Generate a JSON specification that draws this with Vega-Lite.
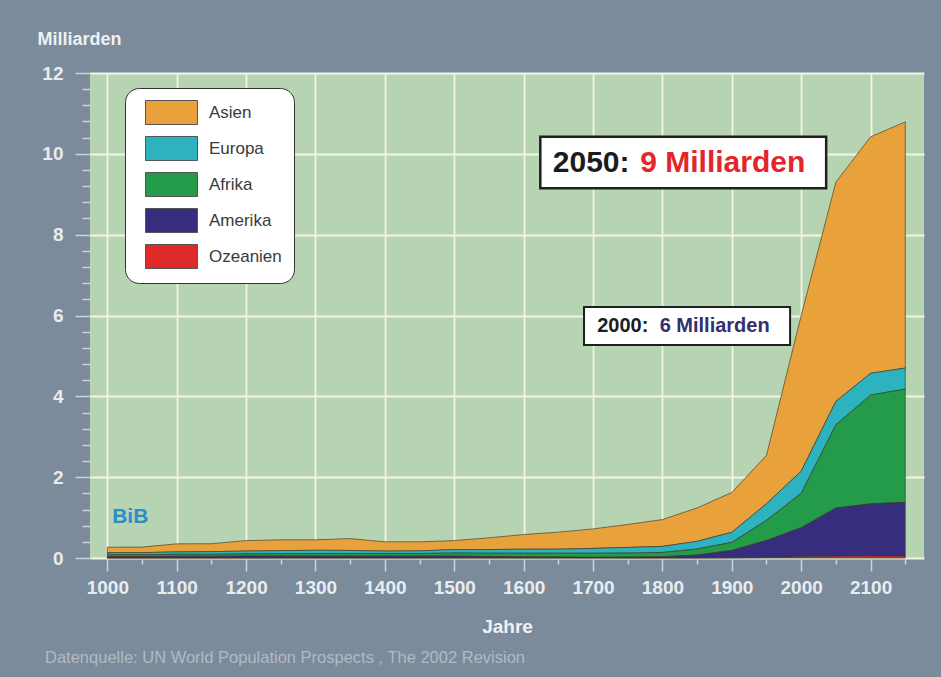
{
  "$schema": "https://vega.github.io/schema/vega-lite/v6.json",
  "width": 834,
  "height": 485,
  "autosize": {"type": "none"},
  "padding": {"left": 90, "top": 73, "right": 17, "bottom": 119},
  "background": "#7B8B9B",
  "config": {
    "font": "Liberation Sans",
    "view": {"fill": "#B7D4B2", "stroke": null}
  },
  "title": {
    "text": "Datenquelle: UN World Population Prospects , The 2002 Revision",
    "orient": "bottom",
    "anchor": "start",
    "frame": "group",
    "dx": -45,
    "offset": 14,
    "fontSize": 16.5,
    "fontWeight": "normal",
    "color": "#B0BAC5"
  },
  "layer": [
    {
      "data": {
        "values": [
          {"Jahr": 1000, "Asien": 0.135, "Europa": 0.05, "Afrika": 0.045, "Amerika": 0.035, "Ozeanien": 0.002},
          {"Jahr": 1050, "Asien": 0.138, "Europa": 0.05, "Afrika": 0.045, "Amerika": 0.035, "Ozeanien": 0.002},
          {"Jahr": 1100, "Asien": 0.198, "Europa": 0.06, "Afrika": 0.05, "Amerika": 0.04, "Ozeanien": 0.002},
          {"Jahr": 1150, "Asien": 0.196, "Europa": 0.065, "Afrika": 0.05, "Amerika": 0.04, "Ozeanien": 0.002},
          {"Jahr": 1200, "Asien": 0.258, "Europa": 0.07, "Afrika": 0.055, "Amerika": 0.045, "Ozeanien": 0.002},
          {"Jahr": 1250, "Asien": 0.268, "Europa": 0.075, "Afrika": 0.06, "Amerika": 0.045, "Ozeanien": 0.002},
          {"Jahr": 1300, "Asien": 0.258, "Europa": 0.08, "Afrika": 0.065, "Amerika": 0.045, "Ozeanien": 0.002},
          {"Jahr": 1350, "Asien": 0.293, "Europa": 0.075, "Afrika": 0.065, "Amerika": 0.045, "Ozeanien": 0.002},
          {"Jahr": 1400, "Asien": 0.228, "Europa": 0.06, "Afrika": 0.065, "Amerika": 0.045, "Ozeanien": 0.002},
          {"Jahr": 1450, "Asien": 0.223, "Europa": 0.065, "Afrika": 0.065, "Amerika": 0.045, "Ozeanien": 0.002},
          {"Jahr": 1500, "Asien": 0.222, "Europa": 0.085, "Afrika": 0.075, "Amerika": 0.045, "Ozeanien": 0.003},
          {"Jahr": 1550, "Asien": 0.292, "Europa": 0.09, "Afrika": 0.08, "Amerika": 0.035, "Ozeanien": 0.003},
          {"Jahr": 1600, "Asien": 0.362, "Europa": 0.1, "Afrika": 0.09, "Amerika": 0.025, "Ozeanien": 0.003},
          {"Jahr": 1650, "Asien": 0.422, "Europa": 0.1, "Afrika": 0.095, "Amerika": 0.02, "Ozeanien": 0.003},
          {"Jahr": 1700, "Asien": 0.482, "Europa": 0.12, "Afrika": 0.1, "Amerika": 0.015, "Ozeanien": 0.003},
          {"Jahr": 1750, "Asien": 0.568, "Europa": 0.14, "Afrika": 0.1, "Amerika": 0.02, "Ozeanien": 0.002},
          {"Jahr": 1800, "Asien": 0.663, "Europa": 0.15, "Afrika": 0.105, "Amerika": 0.03, "Ozeanien": 0.002},
          {"Jahr": 1850, "Asien": 0.827, "Europa": 0.19, "Afrika": 0.15, "Amerika": 0.07, "Ozeanien": 0.003},
          {"Jahr": 1900, "Asien": 0.984, "Europa": 0.25, "Afrika": 0.2, "Amerika": 0.18, "Ozeanien": 0.006},
          {"Jahr": 1950, "Asien": 1.197, "Europa": 0.41, "Afrika": 0.5, "Amerika": 0.42, "Ozeanien": 0.013},
          {"Jahr": 2000, "Asien": 3.85, "Europa": 0.55, "Afrika": 0.85, "Amerika": 0.72, "Ozeanien": 0.03},
          {"Jahr": 2050, "Asien": 5.425, "Europa": 0.58, "Afrika": 2.06, "Amerika": 1.19, "Ozeanien": 0.045},
          {"Jahr": 2100, "Asien": 5.85, "Europa": 0.54, "Afrika": 2.69, "Amerika": 1.29, "Ozeanien": 0.05},
          {"Jahr": 2150, "Asien": 6.09, "Europa": 0.52, "Afrika": 2.8, "Amerika": 1.33, "Ozeanien": 0.05}
        ]
      },
      "transform": [
        {"fold": ["Asien", "Europa", "Afrika", "Amerika", "Ozeanien"], "as": ["Region", "Mrd"]},
        {"calculate": "indexof(['Ozeanien', 'Amerika', 'Afrika', 'Europa', 'Asien'], datum.Region)", "as": "Stapel"}
      ],
      "mark": {"type": "area", "interpolate": "linear", "stroke": "#3A3628", "strokeWidth": 0.8, "strokeOpacity": 0.8},
      "encoding": {
        "x": {
          "field": "Jahr",
          "type": "quantitative",
          "scale": {"domain": [975, 2177], "nice": false, "zero": false},
          "axis": {
            "title": "Jahre",
            "values": [1000, 1050, 1100, 1150, 1200, 1250, 1300, 1350, 1400, 1450, 1500, 1550, 1600, 1650, 1700, 1750, 1800, 1850, 1900, 1950, 2000, 2050, 2100, 2150],
            "tickCount": 60,
            "labelExpr": "datum.value % 100 === 0 ? format(datum.value, 'd') : ''",
            "domain": false,
            "labelFontSize": 19,
            "labelFontWeight": "bold",
            "labelColor": "#E8ECEF",
            "labelPadding": 7,
            "labelOverlap": false,
            "tickColor": "#CCD4DB",
            "tickWidth": 1.5,
            "tickSize": {"condition": {"test": "datum.value % 100 === 0", "value": 13}, "value": 6},
            "grid": true,
            "gridColor": "#F1F5E4",
            "gridWidth": 1.8,
            "gridOpacity": {"condition": {"test": "datum.value % 100 === 0 && datum.value <= 2100", "value": 1}, "value": 0},
            "titleFontSize": 19,
            "titleFontWeight": "bold",
            "titleColor": "#EEF1F4",
            "titlePadding": 20
          }
        },
        "y": {
          "field": "Mrd",
          "type": "quantitative",
          "stack": "zero",
          "scale": {"domain": [0, 12], "nice": false},
          "axis": {
            "title": "Milliarden",
            "values": [0, 0.4, 0.8, 1.2, 1.6, 2, 2.4, 2.8, 3.2, 3.6, 4, 4.4, 4.8, 5.2, 5.6, 6, 6.4, 6.8, 7.2, 7.6, 8, 8.4, 8.8, 9.2, 9.6, 10, 10.4, 10.8, 11.2, 11.6, 12],
            "tickCount": 60,
            "labelExpr": "abs(datum.value / 2 - round(datum.value / 2)) < 0.01 ? format(datum.value, 'd') : ''",
            "domain": false,
            "labelFontSize": 19,
            "labelFontWeight": "bold",
            "labelColor": "#E8ECEF",
            "labelPadding": 12,
            "labelOverlap": false,
            "tickColor": "#CCD4DB",
            "tickWidth": 1.5,
            "tickSize": {"condition": {"test": "abs(datum.value / 2 - round(datum.value / 2)) < 0.01", "value": 15}, "value": 8},
            "grid": true,
            "gridColor": "#F1F5E4",
            "gridWidth": 1.8,
            "gridOpacity": {"condition": {"test": "abs(datum.value / 2 - round(datum.value / 2)) < 0.01", "value": 1}, "value": 0},
            "titleAngle": 0,
            "titleAlign": "left",
            "titleBaseline": "alphabetic",
            "titleX": -53,
            "titleY": -29,
            "titleFontSize": 18,
            "titleFontWeight": "bold",
            "titleColor": "#EEF1F4"
          }
        },
        "color": {
          "field": "Region",
          "type": "nominal",
          "scale": {
            "domain": ["Asien", "Europa", "Afrika", "Amerika", "Ozeanien"],
            "range": ["#E9A13B", "#2DB3BF", "#239B48", "#372D7F", "#E02A2A"]
          },
          "legend": {
            "title": null,
            "orient": "none",
            "legendX": 35,
            "legendY": 15,
            "fillColor": "#FFFFFF",
            "strokeColor": "#333333",
            "cornerRadius": 14,
            "padding": 12,
            "rowPadding": 7,
            "symbolType": "M-2.1667,-1H2.1667V1H-2.1667Z",
            "symbolSize": 576,
            "symbolStrokeColor": "#555555",
            "symbolStrokeWidth": 1,
            "symbolOpacity": 1,
            "symbolOffset": 22,
            "labelOffset": 25,
            "labelFontSize": 17,
            "labelColor": "#3A3A3A"
          }
        },
        "order": {"field": "Stapel", "type": "quantitative", "sort": "ascending"}
      }
    },
    {
      "data": {"values": [{}]},
      "mark": {"type": "rect", "fill": "#FFFFFF", "stroke": "#1F1F1F", "strokeWidth": 2.5},
      "encoding": {
        "x": {"datum": 1624, "type": "quantitative", "scale": {"domain": [975, 2177], "nice": false, "zero": false}},
        "x2": {"datum": 2036},
        "y": {"datum": 10.42, "type": "quantitative", "scale": {"domain": [0, 12], "nice": false}},
        "y2": {"datum": 9.15}
      }
    },
    {
      "data": {"values": [{}]},
      "mark": {"type": "rect", "fill": "#FFFFFF", "stroke": "#1F1F1F", "strokeWidth": 2},
      "encoding": {
        "x": {"datum": 1687, "type": "quantitative", "scale": {"domain": [975, 2177], "nice": false, "zero": false}},
        "x2": {"datum": 1984},
        "y": {"datum": 6.21, "type": "quantitative", "scale": {"domain": [0, 12], "nice": false}},
        "y2": {"datum": 5.27}
      }
    },
    {
      "data": {"values": [{"Text": "2050:"}]},
      "mark": {"type": "text", "align": "left", "baseline": "middle", "fontSize": 30, "fontWeight": "bold", "color": "#1C1C1C"},
      "encoding": {
        "x": {"datum": 1642, "type": "quantitative", "scale": {"domain": [975, 2177], "nice": false, "zero": false}},
        "y": {"datum": 9.77, "type": "quantitative", "scale": {"domain": [0, 12], "nice": false}},
        "text": {"field": "Text"}
      }
    },
    {
      "data": {"values": [{"Text": "9 Milliarden"}]},
      "mark": {"type": "text", "align": "left", "baseline": "middle", "fontSize": 30, "fontWeight": "bold", "color": "#E3262B"},
      "encoding": {
        "x": {"datum": 1768, "type": "quantitative", "scale": {"domain": [975, 2177], "nice": false, "zero": false}},
        "y": {"datum": 9.77, "type": "quantitative", "scale": {"domain": [0, 12], "nice": false}},
        "text": {"field": "Text"}
      }
    },
    {
      "data": {"values": [{"Text": "2000:"}]},
      "mark": {"type": "text", "align": "left", "baseline": "middle", "fontSize": 20, "fontWeight": "bold", "color": "#1C1C1C"},
      "encoding": {
        "x": {"datum": 1706, "type": "quantitative", "scale": {"domain": [975, 2177], "nice": false, "zero": false}},
        "y": {"datum": 5.74, "type": "quantitative", "scale": {"domain": [0, 12], "nice": false}},
        "text": {"field": "Text"}
      }
    },
    {
      "data": {"values": [{"Text": "6 Milliarden"}]},
      "mark": {"type": "text", "align": "left", "baseline": "middle", "fontSize": 20, "fontWeight": "bold", "color": "#33306E"},
      "encoding": {
        "x": {"datum": 1796, "type": "quantitative", "scale": {"domain": [975, 2177], "nice": false, "zero": false}},
        "y": {"datum": 5.74, "type": "quantitative", "scale": {"domain": [0, 12], "nice": false}},
        "text": {"field": "Text"}
      }
    },
    {
      "data": {"values": [{"Text": "BiB"}]},
      "mark": {"type": "text", "align": "center", "baseline": "middle", "fontSize": 21, "fontWeight": "bold", "color": "#2B8FC4"},
      "encoding": {
        "x": {"datum": 1033, "type": "quantitative", "scale": {"domain": [975, 2177], "nice": false, "zero": false}},
        "y": {"datum": 1.01, "type": "quantitative", "scale": {"domain": [0, 12], "nice": false}},
        "text": {"field": "Text"}
      }
    }
  ]
}
